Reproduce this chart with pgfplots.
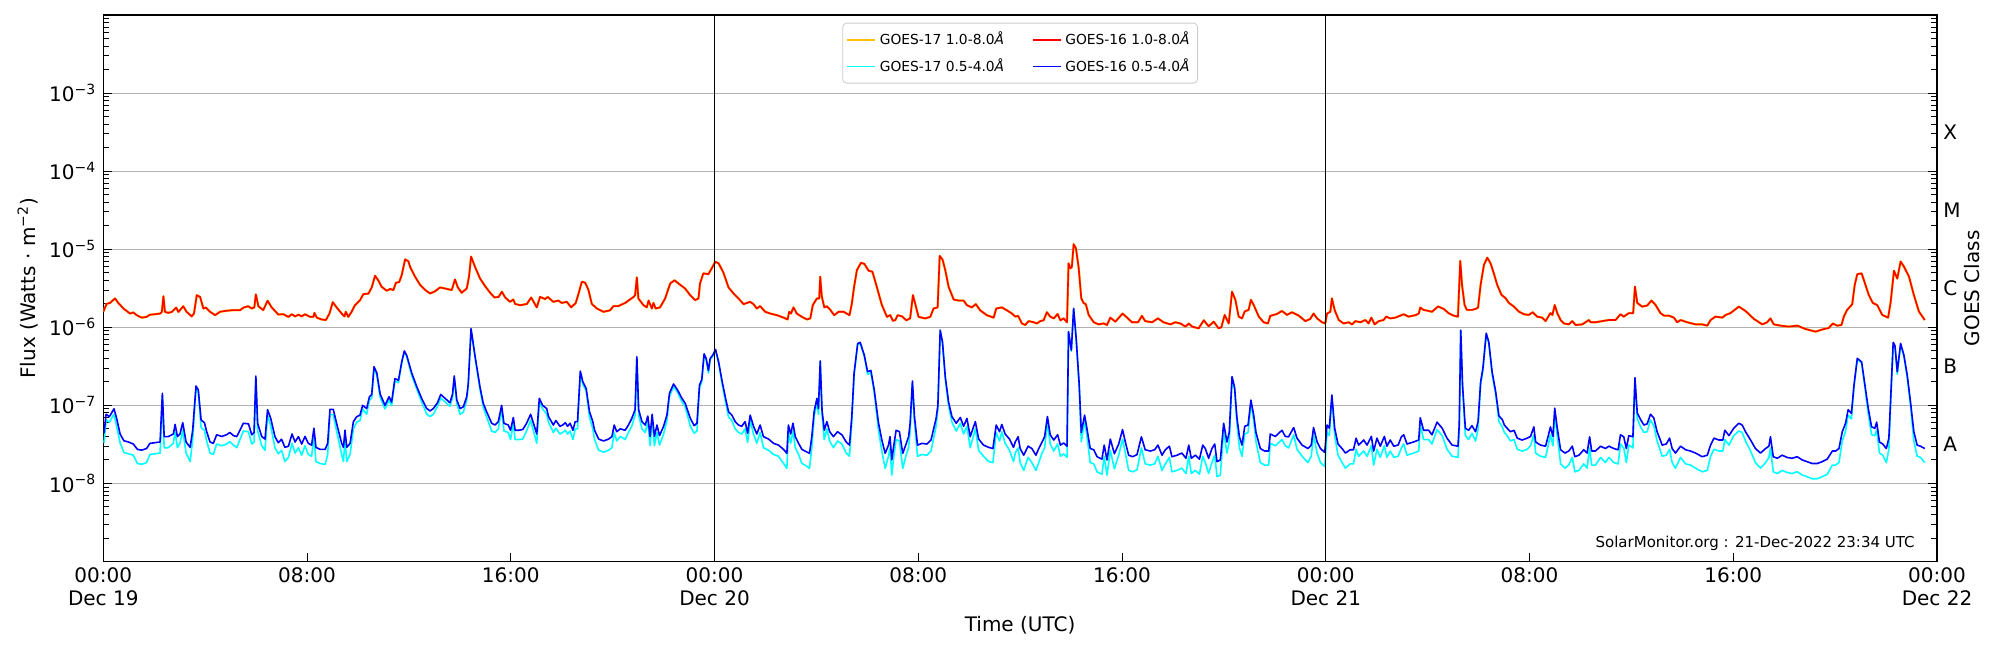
\documentclass[border=0pt]{standalone}
\usepackage{fontspec}
\setmainfont{DejaVu Sans}
\usepackage{pgfplots}
\pgfplotsset{compat=1.18}
\usepackage{pgfplotstable}
\definecolor{goesorange}{RGB}{255,193,7}
\definecolor{goescyan}{RGB}{0,255,255}
\definecolor{goesred}{RGB}{255,0,0}
\definecolor{goesblue}{RGB}{0,0,255}
\definecolor{gridgray}{RGB}{176,176,176}
\definecolor{legframe}{RGB}{204,204,204}

\pgfplotstableread{
h f
0 1.58e-6
0.13 2.0e-6
0.26 2.05e-6
0.46 2.34e-6
0.59 2.05e-6
0.79 1.74e-6
1.05 1.5e-6
1.18 1.55e-6
1.31 1.43e-6
1.51 1.33e-6
1.70 1.36e-6
1.83 1.45e-6
2.03 1.47e-6
2.23 1.5e-6
2.30 1.58e-6
2.36 2.5e-6
2.42 1.58e-6
2.55 1.53e-6
2.70 1.58e-6
2.86 1.79e-6
2.95 1.57e-6
3.14 1.86e-6
3.27 1.58e-6
3.47 1.38e-6
3.56 1.5e-6
3.67 2.58e-6
3.80 2.45e-6
3.93 1.74e-6
4.03 1.79e-6
4.19 1.58e-6
4.39 1.43e-6
4.58 1.58e-6
4.84 1.63e-6
5.11 1.66e-6
5.37 1.66e-6
5.52 1.8e-6
5.69 1.86e-6
5.83 1.74e-6
5.93 1.8e-6
5.99 2.64e-6
6.09 1.86e-6
6.28 1.66e-6
6.45 2.19e-6
6.61 1.8e-6
6.87 1.46e-6
7.07 1.47e-6
7.27 1.36e-6
7.40 1.47e-6
7.53 1.38e-6
7.66 1.45e-6
7.79 1.38e-6
7.92 1.47e-6
8.12 1.36e-6
8.25 1.36e-6
8.29 1.53e-6
8.38 1.33e-6
8.57 1.26e-6
8.74 1.24e-6
8.88 1.5e-6
9.01 2.1e-6
9.16 1.8e-6
9.36 1.5e-6
9.47 1.38e-6
9.52 1.58e-6
9.62 1.36e-6
9.75 1.58e-6
9.88 1.92e-6
10.08 2.22e-6
10.21 2.66e-6
10.41 2.7e-6
10.54 3.24e-6
10.67 4.57e-6
10.80 3.98e-6
10.93 3.3e-6
11.13 2.94e-6
11.26 3.1e-6
11.39 3.0e-6
11.49 3.72e-6
11.62 3.8e-6
11.72 4.7e-6
11.85 7.4e-6
11.98 7.0e-6
12.05 5.9e-6
12.24 4.45e-6
12.44 3.5e-6
12.64 3.0e-6
12.83 2.71e-6
13.03 2.9e-6
13.22 3.24e-6
13.42 3.14e-6
13.68 3.0e-6
13.81 4.1e-6
13.92 3.24e-6
14.07 2.77e-6
14.27 3.14e-6
14.36 4.45e-6
14.44 8.05e-6
14.60 5.9e-6
14.79 4.24e-6
14.99 3.37e-6
15.19 2.77e-6
15.36 2.41e-6
15.52 2.45e-6
15.65 2.85e-6
15.78 2.41e-6
15.97 2.12e-6
16.10 2.27e-6
16.17 1.99e-6
16.37 1.92e-6
16.63 1.99e-6
16.80 2.41e-6
17.02 1.8e-6
17.15 2.45e-6
17.35 2.3e-6
17.45 2.45e-6
17.67 2.12e-6
17.87 2.2e-6
18.00 2.05e-6
18.20 2.12e-6
18.37 1.8e-6
18.55 2.05e-6
18.66 2.7e-6
18.79 3.83e-6
18.92 3.73e-6
19.05 3.0e-6
19.18 2.0e-6
19.38 1.74e-6
19.64 1.58e-6
19.90 1.65e-6
20.03 1.87e-6
20.22 1.87e-6
20.49 2.05e-6
20.82 2.45e-6
20.88 2.58e-6
20.95 4.36e-6
21.01 2.34e-6
21.21 1.92e-6
21.34 1.8e-6
21.41 2.2e-6
21.54 1.74e-6
21.60 2.05e-6
21.69 1.74e-6
21.86 1.8e-6
22.06 2.34e-6
22.26 3.65e-6
22.43 4.0e-6
22.58 3.65e-6
22.84 3.15e-6
23.04 2.59e-6
23.24 2.23e-6
23.37 2.34e-6
23.43 3.65e-6
23.56 4.9e-6
23.76 4.8e-6
23.89 5.7e-6
24.03 6.9e-6
24.16 6.6e-6
24.35 5.0e-6
24.55 3.24e-6
24.75 2.7e-6
24.94 2.34e-6
25.14 1.98e-6
25.27 2.05e-6
25.40 2.12e-6
25.53 1.98e-6
25.66 1.74e-6
25.79 1.87e-6
25.99 1.58e-6
26.19 1.5e-6
26.45 1.43e-6
26.71 1.33e-6
26.87 1.26e-6
26.93 1.58e-6
27.00 1.5e-6
27.10 1.8e-6
27.23 1.5e-6
27.43 1.36e-6
27.63 1.26e-6
27.76 1.3e-6
27.86 1.93e-6
28.02 2.34e-6
28.11 2.34e-6
28.15 4.45e-6
28.21 2.5e-6
28.31 1.8e-6
28.41 1.86e-6
28.54 1.68e-6
28.70 1.43e-6
28.87 1.58e-6
29.07 1.58e-6
29.30 1.43e-6
29.39 2.0e-6
29.48 3.3e-6
29.59 5.4e-6
29.75 6.7e-6
29.88 6.5e-6
30.05 5.3e-6
30.20 5.15e-6
30.37 3.3e-6
30.57 1.93e-6
30.77 1.36e-6
30.90 1.43e-6
31.00 1.21e-6
31.10 1.24e-6
31.19 1.43e-6
31.36 1.38e-6
31.53 1.23e-6
31.68 1.3e-6
31.79 2.58e-6
31.88 2.0e-6
32.01 1.36e-6
32.27 1.3e-6
32.47 1.36e-6
32.60 1.74e-6
32.76 1.8e-6
32.84 8.2e-6
32.95 7.4e-6
33.06 5.4e-6
33.19 3.3e-6
33.39 2.27e-6
33.58 2.2e-6
33.78 2.2e-6
33.91 1.92e-6
34.10 1.8e-6
34.26 1.98e-6
34.43 1.65e-6
34.69 1.43e-6
34.96 1.33e-6
35.06 1.74e-6
35.28 1.8e-6
35.48 1.65e-6
35.68 1.5e-6
35.81 1.37e-6
35.92 1.40e-6
36.07 1.12e-6
36.20 1.07e-6
36.33 1.2e-6
36.53 1.16e-6
36.66 1.12e-6
36.79 1.2e-6
36.92 1.23e-6
37.05 1.56e-6
37.18 1.37e-6
37.32 1.3e-6
37.47 1.48e-6
37.58 1.23e-6
37.71 1.3e-6
37.84 1.16e-6
37.90 6.6e-6
37.97 5.7e-6
38.03 5.9e-6
38.10 1.16e-5
38.19 1.03e-5
38.30 5.7e-6
38.40 2.35e-6
38.49 2.05e-6
38.58 1.97e-6
38.69 1.44e-6
38.89 1.16e-6
39.08 1.09e-6
39.28 1.12e-6
39.41 1.07e-6
39.54 1.33e-6
39.74 1.18e-6
40.02 1.5e-6
40.20 1.33e-6
40.39 1.16e-6
40.63 1.16e-6
40.78 1.4e-6
40.91 1.2e-6
41.18 1.16e-6
41.41 1.3e-6
41.63 1.16e-6
41.90 1.09e-6
42.09 1.16e-6
42.29 1.12e-6
42.49 1.02e-6
42.62 1.12e-6
42.75 1.02e-6
43.01 9.7e-7
43.21 1.23e-6
43.40 1.03e-6
43.60 1.18e-6
43.79 9.7e-7
43.90 1.0e-6
44.03 1.44e-6
44.19 1.12e-6
44.32 2.86e-6
44.45 2.25e-6
44.58 1.37e-6
44.71 1.3e-6
44.82 1.6e-6
44.97 1.67e-6
45.06 2.25e-6
45.17 1.93e-6
45.37 1.37e-6
45.56 1.16e-6
45.73 1.12e-6
45.82 1.4e-6
46.08 1.48e-6
46.28 1.62e-6
46.48 1.44e-6
46.67 1.56e-6
46.94 1.41e-6
47.20 1.2e-6
47.39 1.28e-6
47.52 1.5e-6
47.66 1.3e-6
47.85 1.16e-6
47.98 1.12e-6
48.05 1.5e-6
48.18 1.58e-6
48.24 2.35e-6
48.35 1.66e-6
48.51 1.24e-6
48.70 1.12e-6
48.90 1.16e-6
49.03 1.09e-6
49.16 1.2e-6
49.36 1.16e-6
49.55 1.24e-6
49.68 1.12e-6
49.79 1.33e-6
49.92 1.09e-6
50.08 1.2e-6
50.27 1.24e-6
50.37 1.37e-6
50.53 1.3e-6
50.73 1.33e-6
51.06 1.47e-6
51.25 1.37e-6
51.52 1.43e-6
51.65 1.5e-6
51.71 1.79e-6
51.84 1.67e-6
52.04 1.62e-6
52.17 1.58e-6
52.41 1.85e-6
52.63 1.72e-6
52.83 1.51e-6
53.02 1.41e-6
53.19 1.37e-6
53.28 7.1e-6
53.35 3.5e-6
53.45 1.93e-6
53.54 1.67e-6
53.74 1.67e-6
53.88 1.72e-6
53.98 1.79e-6
54.08 3.5e-6
54.21 6.3e-6
54.34 7.8e-6
54.47 6.6e-6
54.60 4.9e-6
54.73 3.5e-6
54.90 2.6e-6
55.06 2.36e-6
55.19 2.05e-6
55.39 1.84e-6
55.58 1.59e-6
55.78 1.47e-6
55.97 1.44e-6
56.13 1.56e-6
56.30 1.37e-6
56.50 1.33e-6
56.63 1.2e-6
56.82 1.52e-6
56.90 1.44e-6
56.99 1.93e-6
57.09 1.52e-6
57.22 1.24e-6
57.35 1.12e-6
57.54 1.09e-6
57.68 1.2e-6
57.81 1.07e-6
58.07 1.09e-6
58.33 1.24e-6
58.40 1.16e-6
58.59 1.16e-6
58.85 1.2e-6
59.12 1.24e-6
59.38 1.24e-6
59.57 1.47e-6
59.70 1.37e-6
59.90 1.52e-6
60.07 1.52e-6
60.14 3.32e-6
60.23 2.05e-6
60.42 1.84e-6
60.62 1.9e-6
60.79 2.2e-6
60.95 1.93e-6
61.14 1.52e-6
61.28 1.41e-6
61.47 1.41e-6
61.67 1.33e-6
61.80 1.16e-6
61.93 1.24e-6
62.19 1.16e-6
62.52 1.09e-6
62.78 1.09e-6
62.98 1.05e-6
63.11 1.24e-6
63.30 1.37e-6
63.57 1.33e-6
63.70 1.44e-6
63.89 1.52e-6
64.22 1.84e-6
64.48 1.62e-6
64.81 1.28e-6
65.14 1.09e-6
65.33 1.16e-6
65.46 1.3e-6
65.59 1.09e-6
65.86 1.05e-6
66.18 1.02e-6
66.51 1.05e-6
66.84 9.5e-7
67.23 8.8e-7
67.56 9.5e-7
67.75 9.8e-7
67.91 1.12e-6
68.08 1.05e-6
68.25 1.07e-6
68.34 1.37e-6
68.47 1.67e-6
68.67 1.97e-6
68.77 3.5e-6
68.87 4.8e-6
69.04 4.9e-6
69.19 3.5e-6
69.32 2.6e-6
69.48 2.05e-6
69.65 1.93e-6
69.85 1.44e-6
70.08 1.33e-6
70.18 2.1e-6
70.31 5.3e-6
70.44 4.2e-6
70.57 6.95e-6
70.70 6.0e-6
70.90 4.45e-6
71.09 2.6e-6
71.29 1.59e-6
71.52 1.24e-6
}\tabhard

\pgfplotstableread{
h g16 g17
0.03 4.4e-8 3.3e-8
0.11 7.7e-8 6.5e-8
0.24 7.16e-8 6.1e-8
0.42 9.05e-8 7.7e-8
0.52 6.9e-8 5.5e-8
0.66 4.3e-8 3.3e-8
0.81 3.52e-8 2.5e-8
0.98 3.4e-8 2.4e-8
1.18 3.2e-8 2.3e-8
1.34 2.73e-8 1.8e-8
1.51 2.67e-8 1.76e-8
1.70 2.8e-8 1.85e-8
1.83 3.26e-8 2.35e-8
2.03 3.33e-8 2.4e-8
2.23 3.4e-8 2.45e-8
2.32 1.43e-7 1.29e-7
2.39 3.98e-8 2.87e-8
2.55 3.98e-8 2.87e-8
2.75 4.3e-8 3.27e-8
2.82 5.7e-8 4.56e-8
2.91 3.98e-8 2.87e-8
3.01 4.3e-8 3.27e-8
3.12 6.0e-8 4.8e-8
3.25 3.4e-8 2.45e-8
3.41 2.9e-8 1.91e-8
3.51 4.8e-8 3.65e-8
3.64 1.77e-7 1.65e-7
3.73 1.58e-7 1.47e-7
3.84 6.5e-8 5.2e-8
3.97 6.0e-8 4.8e-8
4.06 4.6e-8 3.5e-8
4.19 3.4e-8 2.45e-8
4.32 3.26e-8 2.35e-8
4.45 4.2e-8 3.2e-8
4.65 4.0e-8 3.04e-8
4.84 4.2e-8 3.2e-8
4.97 4.5e-8 3.42e-8
5.11 4.1e-8 3.1e-8
5.24 3.98e-8 2.87e-8
5.50 5.9e-8 4.7e-8
5.70 5.8e-8 4.6e-8
5.83 4.2e-8 3.2e-8
5.92 4.5e-8 3.4e-8
5.99 2.38e-7 2.2e-7
6.06 5.9e-8 4.7e-8
6.22 4.0e-8 3.04e-8
6.35 3.7e-8 2.66e-8
6.45 8.8e-8 7.5e-8
6.57 6.9e-8 5.5e-8
6.74 3.98e-8 2.87e-8
6.87 3.33e-8 2.4e-8
7.00 3.68e-8 2.65e-8
7.13 2.9e-8 1.91e-8
7.27 3.0e-8 2.16e-8
7.41 4.3e-8 3.27e-8
7.53 3.4e-8 2.45e-8
7.66 3.98e-8 2.87e-8
7.79 3.2e-8 2.3e-8
7.92 4.0e-8 3.04e-8
8.05 3.26e-8 2.35e-8
8.18 3.1e-8 2.23e-8
8.27 5.1e-8 4.1e-8
8.35 2.9e-8 1.91e-8
8.51 2.73e-8 1.8e-8
8.71 2.73e-8 1.75e-8
8.81 3.26e-8 2.35e-8
8.90 8.9e-8 7.6e-8
9.03 8.9e-8 7.6e-8
9.16 5.9e-8 4.7e-8
9.36 3.26e-8 2.35e-8
9.43 2.9e-8 1.91e-8
9.49 4.8e-8 3.65e-8
9.56 2.9e-8 1.91e-8
9.69 3.26e-8 2.35e-8
9.82 6.2e-8 5.0e-8
9.95 7.16e-8 6.1e-8
10.08 7.5e-8 6.4e-8
10.18 1.0e-7 9.0e-8
10.34 9.1e-8 7.7e-8
10.45 1.29e-7 1.16e-7
10.54 1.38e-7 1.24e-7
10.63 3.13e-7 3.04e-7
10.74 2.6e-7 2.42e-7
10.87 1.4e-7 1.26e-7
11.06 1.0e-7 9.0e-8
11.22 1.29e-7 1.16e-7
11.32 1.1e-7 9.9e-8
11.45 2.2e-7 2.05e-7
11.59 2.1e-7 1.95e-7
11.72 3.63e-7 3.52e-7
11.82 4.98e-7 4.83e-7
11.91 4.4e-7 4.27e-7
12.11 2.6e-7 2.42e-7
12.31 1.73e-7 1.61e-7
12.50 1.23e-7 1.11e-7
12.70 9.1e-8 7.7e-8
12.83 8.5e-8 7.2e-8
12.96 9.1e-8 7.7e-8
13.12 1.08e-7 9.7e-8
13.25 1.38e-7 1.24e-7
13.42 1.23e-7 1.11e-7
13.61 1.08e-7 9.7e-8
13.71 1.38e-7 1.24e-7
13.78 2.38e-7 2.21e-7
13.88 1.17e-7 1.05e-7
14.01 9.1e-8 7.7e-8
14.14 9.6e-8 8.2e-8
14.27 1.29e-7 1.16e-7
14.33 1.9e-7 1.77e-7
14.44 9.6e-7 9.3e-7
14.60 4.2e-7 4.07e-7
14.79 1.73e-7 1.61e-7
14.92 1.06e-7 9.5e-8
15.05 8.3e-8 7.1e-8
15.25 5.9e-8 4.7e-8
15.38 5.6e-8 4.5e-8
15.51 6.2e-8 5.0e-8
15.64 1.0e-7 9.0e-8
15.73 5.9e-8 4.7e-8
15.90 5.6e-8 4.5e-8
15.99 4.8e-8 3.65e-8
16.10 7.0e-8 5.9e-8
16.17 4.8e-8 3.65e-8
16.30 4.8e-8 3.65e-8
16.47 4.9e-8 3.7e-8
16.62 5.9e-8 4.7e-8
16.78 7.7e-8 6.5e-8
16.89 5.9e-8 4.7e-8
17.02 4.3e-8 3.27e-8
17.12 1.23e-7 1.11e-7
17.25 1.0e-7 9.0e-8
17.41 9.1e-8 7.7e-8
17.48 7.2e-8 6.1e-8
17.67 5.6e-8 4.5e-8
17.77 6.4e-8 5.1e-8
17.93 5.4e-8 4.3e-8
18.04 5.6e-8 4.5e-8
18.14 6.0e-8 4.8e-8
18.23 5.4e-8 4.3e-8
18.33 5.9e-8 4.7e-8
18.44 4.8e-8 3.65e-8
18.53 6.2e-8 5.0e-8
18.62 6.2e-8 5.0e-8
18.73 2.75e-7 2.56e-7
18.83 2.0e-7 1.86e-7
18.96 1.65e-7 1.53e-7
19.09 8.3e-8 7.1e-8
19.22 6.2e-8 5.0e-8
19.29 4.8e-8 3.65e-8
19.45 3.7e-8 2.66e-8
19.64 3.5e-8 2.52e-8
19.84 3.7e-8 2.66e-8
19.97 3.98e-8 2.87e-8
20.06 5.6e-8 4.5e-8
20.16 4.6e-8 3.5e-8
20.30 5.0e-8 4.0e-8
20.49 4.8e-8 3.65e-8
20.62 5.6e-8 4.5e-8
20.75 6.8e-8 5.4e-8
20.88 8.8e-8 7.5e-8
20.95 4.2e-7 4.07e-7
21.02 8.8e-8 7.5e-8
21.15 6.2e-8 5.0e-8
21.28 5.6e-8 4.5e-8
21.38 7.3e-8 6.2e-8
21.47 4.0e-8 3.04e-8
21.55 7.7e-8 6.5e-8
21.64 4.0e-8 3.04e-8
21.74 5.6e-8 4.5e-8
21.84 4.1e-8 3.1e-8
22.00 5.4e-8 4.3e-8
22.13 7.5e-8 6.4e-8
22.23 1.43e-7 1.29e-7
22.39 1.88e-7 1.75e-7
22.55 1.57e-7 1.46e-7
22.72 1.23e-7 1.11e-7
22.85 1.06e-7 9.5e-8
23.05 6.8e-8 5.4e-8
23.20 5.5e-8 4.4e-8
23.31 5.9e-8 4.7e-8
23.41 1.82e-7 1.69e-7
23.50 2.15e-7 2.0e-7
23.59 4.57e-7 4.43e-7
23.67 4.0e-7 3.88e-7
23.76 2.8e-7 2.6e-7
23.83 4.0e-7 3.88e-7
23.93 4.4e-7 4.27e-7
24.04 5.2e-7 5.04e-7
24.16 3.6e-7 3.49e-7
24.29 2.1e-7 1.95e-7
24.42 1.29e-7 1.16e-7
24.55 8.3e-8 7.1e-8
24.68 7.5e-8 6.4e-8
24.81 6.2e-8 5.0e-8
24.94 5.6e-8 4.5e-8
25.07 5.4e-8 4.3e-8
25.20 6.2e-8 5.0e-8
25.30 4.4e-8 3.35e-8
25.40 7.5e-8 6.4e-8
25.53 5.4e-8 4.3e-8
25.66 4.3e-8 3.27e-8
25.79 5.6e-8 4.5e-8
25.92 3.98e-8 2.87e-8
26.12 3.7e-8 2.66e-8
26.32 3.26e-8 2.35e-8
26.51 3.1e-8 2.23e-8
26.71 2.73e-8 1.8e-8
26.84 2.43e-8 1.56e-8
26.90 5.6e-8 4.5e-8
26.99 4.3e-8 3.27e-8
27.08 5.9e-8 4.7e-8
27.17 3.98e-8 2.87e-8
27.30 3.26e-8 2.35e-8
27.43 2.73e-8 1.8e-8
27.60 2.55e-8 1.68e-8
27.73 2.43e-8 1.56e-8
27.82 3.98e-8 2.87e-8
27.91 8.3e-8 7.1e-8
28.02 1.23e-7 1.11e-7
28.08 9.1e-8 7.7e-8
28.15 3.7e-7 3.59e-7
28.22 8.8e-8 7.5e-8
28.31 4.8e-8 3.65e-8
28.41 6.2e-8 5.0e-8
28.52 4.6e-8 3.5e-8
28.67 3.98e-8 2.87e-8
28.83 4.6e-8 3.5e-8
29.00 4.2e-8 3.2e-8
29.17 3.4e-8 2.45e-8
29.30 3.1e-8 2.23e-8
29.39 7.2e-8 6.1e-8
29.48 2.6e-7 2.42e-7
29.62 6.2e-7 6.0e-7
29.72 6.4e-7 6.2e-7
29.88 4.4e-7 4.27e-7
30.01 2.7e-7 2.51e-7
30.14 2.8e-7 2.6e-7
30.27 1.58e-7 1.47e-7
30.44 5.9e-8 4.7e-8
30.57 3.6e-8 2.6e-8
30.70 2.43e-8 1.56e-8
30.83 3.1e-8 2.23e-8
30.89 3.98e-8 2.87e-8
30.96 2.0e-8 1.28e-8
31.04 3.1e-8 2.23e-8
31.13 4.8e-8 3.65e-8
31.26 4.6e-8 3.5e-8
31.39 2.43e-8 1.56e-8
31.53 3.26e-8 2.35e-8
31.62 3.98e-8 2.87e-8
31.68 5.9e-8 4.7e-8
31.77 2.05e-7 1.91e-7
31.85 7.2e-8 6.1e-8
31.97 3.1e-8 2.23e-8
32.14 3.26e-8 2.35e-8
32.34 3.2e-8 2.3e-8
32.50 3.6e-8 2.6e-8
32.70 6.8e-8 5.4e-8
32.77 1.0e-7 9.0e-8
32.86 9.2e-7 8.9e-7
32.95 6.5e-7 6.3e-7
33.06 2.33e-7 2.17e-7
33.19 1.1e-7 9.9e-8
33.32 7.2e-8 6.1e-8
33.49 5.9e-8 4.7e-8
33.65 7.0e-8 5.9e-8
33.78 5.4e-8 4.3e-8
33.91 6.8e-8 5.4e-8
34.04 3.98e-8 2.87e-8
34.24 6.2e-8 5.0e-8
34.37 3.7e-8 2.66e-8
34.56 3.1e-8 2.23e-8
34.76 2.9e-8 1.91e-8
34.93 2.8e-8 1.85e-8
35.06 5.6e-8 4.5e-8
35.19 4.6e-8 3.5e-8
35.28 5.7e-8 4.6e-8
35.41 4.3e-8 3.27e-8
35.58 3.7e-8 2.66e-8
35.74 2.9e-8 1.91e-8
35.81 3.42e-8 2.46e-8
35.92 3.96e-8 2.85e-8
36.00 2.8e-8 1.85e-8
36.14 2.3e-8 1.47e-8
36.31 3.0e-8 2.16e-8
36.46 2.8e-8 1.85e-8
36.62 2.3e-8 1.47e-8
36.73 2.8e-8 1.85e-8
36.86 3.4e-8 2.45e-8
36.96 3.96e-8 2.85e-8
37.07 7.2e-8 6.1e-8
37.18 4.2e-8 3.2e-8
37.32 3.6e-8 2.6e-8
37.47 4.2e-8 3.2e-8
37.58 3.1e-8 2.23e-8
37.71 3.3e-8 2.38e-8
37.84 3.0e-8 2.16e-8
37.90 8.8e-7 8.5e-7
38.01 5.1e-7 4.95e-7
38.10 1.75e-6 1.70e-6
38.20 7.2e-7 7.0e-7
38.32 1.82e-7 1.69e-7
38.40 4.5e-8 3.42e-8
38.53 7.5e-8 6.4e-8
38.62 5.1e-8 4.1e-8
38.75 2.8e-8 1.85e-8
38.89 2.7e-8 1.78e-8
39.02 2.2e-8 1.41e-8
39.21 2.05e-8 1.31e-8
39.30 3.1e-8 2.23e-8
39.41 2.0e-8 1.28e-8
39.54 3.7e-8 2.66e-8
39.70 2.4e-8 1.54e-8
39.87 3.2e-8 2.3e-8
40.02 4.9e-8 3.7e-8
40.13 3.4e-8 2.45e-8
40.26 2.3e-8 1.47e-8
40.42 2.2e-8 1.41e-8
40.59 2.35e-8 1.5e-8
40.76 3.96e-8 2.85e-8
40.91 2.7e-8 1.78e-8
41.11 2.6e-8 1.72e-8
41.28 2.7e-8 1.78e-8
41.41 3.1e-8 2.23e-8
41.57 2.3e-8 1.47e-8
41.70 2.7e-8 1.78e-8
41.86 3.0e-8 2.16e-8
41.96 2.2e-8 1.41e-8
42.16 2.3e-8 1.47e-8
42.35 2.45e-8 1.57e-8
42.51 2.1e-8 1.34e-8
42.62 3.1e-8 2.23e-8
42.72 2.1e-8 1.34e-8
42.88 2.3e-8 1.47e-8
43.04 2.05e-8 1.31e-8
43.17 3.1e-8 2.23e-8
43.27 2.8e-8 1.85e-8
43.40 2.1e-8 1.34e-8
43.53 2.8e-8 1.85e-8
43.64 3.2e-8 2.3e-8
43.73 1.9e-8 1.22e-8
43.86 2.0e-8 1.28e-8
43.99 5.9e-8 4.7e-8
44.12 3.4e-8 2.45e-8
44.21 4.5e-8 3.42e-8
44.32 2.33e-7 2.17e-7
44.42 1.7e-7 1.58e-7
44.51 7.0e-8 5.9e-8
44.61 3.96e-8 2.85e-8
44.71 3.1e-8 2.23e-8
44.82 5.4e-8 4.3e-8
44.95 5.6e-8 4.5e-8
45.06 1.17e-7 1.05e-7
45.17 7.5e-8 6.4e-8
45.26 4.5e-8 3.42e-8
45.43 2.8e-8 1.85e-8
45.60 2.6e-8 1.72e-8
45.76 2.6e-8 1.72e-8
45.82 4.3e-8 3.27e-8
46.02 4.0e-8 3.04e-8
46.28 4.8e-8 3.65e-8
46.41 4.0e-8 3.04e-8
46.54 3.96e-8 2.85e-8
46.74 5.2e-8 4.2e-8
46.87 3.8e-8 2.74e-8
47.07 3.1e-8 2.23e-8
47.30 2.8e-8 1.85e-8
47.43 3.1e-8 2.23e-8
47.52 5.2e-8 4.2e-8
47.66 3.4e-8 2.45e-8
47.79 2.8e-8 1.85e-8
47.96 2.5e-8 1.65e-8
48.05 5.6e-8 4.5e-8
48.14 5.1e-8 4.1e-8
48.24 1.36e-7 1.22e-7
48.35 5.1e-8 4.1e-8
48.48 3.2e-8 2.3e-8
48.64 2.8e-8 1.85e-8
48.77 2.45e-8 1.57e-8
48.96 2.7e-8 1.78e-8
49.09 2.7e-8 1.78e-8
49.19 3.8e-8 2.74e-8
49.29 3.1e-8 2.23e-8
49.49 3.6e-8 2.6e-8
49.62 3.1e-8 2.23e-8
49.79 4.0e-8 3.04e-8
49.88 2.6e-8 1.72e-8
50.01 3.8e-8 2.74e-8
50.14 3.0e-8 2.16e-8
50.30 4.0e-8 3.04e-8
50.40 3.0e-8 2.16e-8
50.53 3.6e-8 2.6e-8
50.67 3.0e-8 2.16e-8
50.84 3.1e-8 2.23e-8
50.97 3.96e-8 2.85e-8
51.06 4.2e-8 3.2e-8
51.19 3.2e-8 2.3e-8
51.45 3.4e-8 2.45e-8
51.65 3.6e-8 2.6e-8
51.71 6.95e-8 5.6e-8
51.84 4.8e-8 3.65e-8
52.04 4.8e-8 3.65e-8
52.17 4.2e-8 3.2e-8
52.37 6.1e-8 4.9e-8
52.57 5.1e-8 4.1e-8
52.76 3.8e-8 2.74e-8
52.96 3.1e-8 2.23e-8
53.19 3.0e-8 2.16e-8
53.24 5.6e-8 4.5e-8
53.30 9.2e-7 8.9e-7
53.37 1.82e-7 1.69e-7
53.48 5.1e-8 4.1e-8
53.61 4.8e-8 3.65e-8
53.74 5.5e-8 4.4e-8
53.88 4.6e-8 3.5e-8
53.98 6.2e-8 5.0e-8
54.08 2.0e-7 1.86e-7
54.17 2.98e-7 2.77e-7
54.30 8.4e-7 8.1e-7
54.40 6.5e-7 6.3e-7
54.53 2.7e-7 2.51e-7
54.67 1.5e-7 1.4e-7
54.80 7.3e-8 6.2e-8
54.93 6.6e-8 5.3e-8
55.01 5.6e-8 4.5e-8
55.12 5.1e-8 4.1e-8
55.25 4.6e-8 3.5e-8
55.39 4.8e-8 3.65e-8
55.52 3.8e-8 2.74e-8
55.71 3.6e-8 2.6e-8
55.91 3.8e-8 2.74e-8
56.04 4.0e-8 3.04e-8
56.17 5.3e-8 4.2e-8
56.24 3.4e-8 2.45e-8
56.43 3.1e-8 2.23e-8
56.63 3.0e-8 2.16e-8
56.73 4.0e-8 3.04e-8
56.82 5.3e-8 4.2e-8
56.92 4.0e-8 3.04e-8
56.99 9.2e-8 7.8e-8
57.09 5.1e-8 4.1e-8
57.22 2.7e-8 1.78e-8
57.39 2.45e-8 1.57e-8
57.54 2.6e-8 1.72e-8
57.68 3.0e-8 2.16e-8
57.78 2.2e-8 1.41e-8
57.94 2.3e-8 1.47e-8
58.13 2.7e-8 1.78e-8
58.26 2.45e-8 1.57e-8
58.36 3.96e-8 2.85e-8
58.44 2.6e-8 1.72e-8
58.59 2.6e-8 1.72e-8
58.79 3.0e-8 2.16e-8
58.98 2.8e-8 1.85e-8
59.12 3.0e-8 2.16e-8
59.31 2.8e-8 1.85e-8
59.48 2.7e-8 1.78e-8
59.57 4.2e-8 3.2e-8
59.70 3.96e-8 2.85e-8
59.80 2.8e-8 1.85e-8
59.90 4.1e-8 3.1e-8
60.06 3.96e-8 2.85e-8
60.14 2.26e-7 2.1e-7
60.23 8.0e-8 6.8e-8
60.36 6.6e-8 5.3e-8
60.49 5.6e-8 4.5e-8
60.62 5.8e-8 4.6e-8
60.75 7.7e-8 6.5e-8
60.88 6.9e-8 5.5e-8
61.01 4.6e-8 3.5e-8
61.21 3.1e-8 2.23e-8
61.37 3.2e-8 2.3e-8
61.50 3.8e-8 2.74e-8
61.60 2.8e-8 1.85e-8
61.73 2.45e-8 1.57e-8
61.93 3.0e-8 2.16e-8
62.13 2.7e-8 1.78e-8
62.32 2.6e-8 1.72e-8
62.52 2.45e-8 1.57e-8
62.78 2.2e-8 1.41e-8
62.98 2.3e-8 1.47e-8
63.11 3.1e-8 2.23e-8
63.24 3.8e-8 2.74e-8
63.44 3.6e-8 2.6e-8
63.59 3.6e-8 2.6e-8
63.67 4.8e-8 3.65e-8
63.83 4.1e-8 3.1e-8
64.02 5.1e-8 4.1e-8
64.22 5.9e-8 4.7e-8
64.35 5.6e-8 4.5e-8
64.48 4.6e-8 3.5e-8
64.68 3.6e-8 2.6e-8
64.87 2.8e-8 1.85e-8
65.07 2.45e-8 1.57e-8
65.27 2.8e-8 1.85e-8
65.40 3.0e-8 2.16e-8
65.46 3.96e-8 2.85e-8
65.57 2.2e-8 1.41e-8
65.73 2.1e-8 1.34e-8
65.92 2.3e-8 1.47e-8
66.12 2.15e-8 1.38e-8
66.31 2.1e-8 1.34e-8
66.51 2.2e-8 1.41e-8
66.71 2.0e-8 1.28e-8
66.90 1.9e-8 1.22e-8
67.10 1.8e-8 1.15e-8
67.30 1.8e-8 1.15e-8
67.49 1.9e-8 1.22e-8
67.69 2.05e-8 1.31e-8
67.89 2.6e-8 1.72e-8
68.02 2.6e-8 1.72e-8
68.15 2.8e-8 1.85e-8
68.28 4.6e-8 3.5e-8
68.41 5.9e-8 4.7e-8
68.51 8.8e-8 7.5e-8
68.64 7.9e-8 6.7e-8
68.74 1.82e-7 1.69e-7
68.87 4.0e-7 3.88e-7
69.04 3.6e-7 3.49e-7
69.17 1.82e-7 1.69e-7
69.30 9.2e-8 7.8e-8
69.43 5.3e-8 4.2e-8
69.56 5.1e-8 4.1e-8
69.63 6.1e-8 4.9e-8
69.74 3.4e-8 2.45e-8
69.87 3.2e-8 2.3e-8
70.01 2.8e-8 1.85e-8
70.11 3.8e-8 2.74e-8
70.21 2.0e-7 1.86e-7
70.28 6.4e-7 6.2e-7
70.35 5.8e-7 5.6e-7
70.44 2.7e-7 2.51e-7
70.57 6.2e-7 6.0e-7
70.70 4.4e-7 4.27e-7
70.83 2.45e-7 2.28e-7
70.96 1.1e-7 9.9e-8
71.09 4.6e-8 3.5e-8
71.22 3.1e-8 2.23e-8
71.35 3.0e-8 2.16e-8
71.52 2.8e-8 1.85e-8
}\tabsoft

\begin{document}
\begin{tikzpicture}
\useasboundingbox (-51.65pt,-44.25pt) rectangle (948.35pt,280.75pt);
\begin{axis}[
  at={(0,0)}, anchor=south west,
  scale only axis, width=916.85pt, height=273.25pt,
  xmin=0, xmax=72,
  ymode=log, ymin=1e-9, ymax=1e-2,
  axis line style={line width=0.6pt},
  xtick={0,8,16,24,32,40,48,56,64,72},
  xticklabels={{00:00\\Dec 19},08:00,16:00,{00:00\\Dec 20},08:00,16:00,{00:00\\Dec 21},08:00,16:00,{00:00\\Dec 22}},
  xticklabel style={align=center, inner sep=2.8pt},
  xtick pos=left,
  ytick={1e-8,1e-7,1e-6,1e-5,1e-4,1e-3},
  yticklabels={10\textsuperscript{−8},10\textsuperscript{−7},10\textsuperscript{−6},10\textsuperscript{−5},10\textsuperscript{−4},10\textsuperscript{−3}},
  minor ytick={2e-9,3e-9,4e-9,5e-9,6e-9,7e-9,8e-9,9e-9,
    2e-8,3e-8,4e-8,5e-8,6e-8,7e-8,8e-8,9e-8,
    2e-7,3e-7,4e-7,5e-7,6e-7,7e-7,8e-7,9e-7,
    2e-6,3e-6,4e-6,5e-6,6e-6,7e-6,8e-6,9e-6,
    2e-5,3e-5,4e-5,5e-5,6e-5,7e-5,8e-5,9e-5,
    2e-4,3e-4,4e-4,5e-4,6e-4,7e-4,8e-4,9e-4,
    2e-3,3e-3,4e-3,5e-3,6e-3,7e-3,8e-3,9e-3},
  ytick pos=both,
  tick align=inside,
  major tick length=4.5pt, minor tick length=3pt,
  tick style={black, line width=0.5pt},
  every tick label/.append style={font=\fontsize{10}{11.65}\selectfont},
  ymajorgrids, major grid style={gridgray, line width=0.45pt},
  legend columns=2,
  legend cell align=left,
  legend image code/.code={\draw[#1, line width=0.6pt] (0pt,0pt) -- (14pt,0pt);},
  legend style={at={(0.5,1)}, anchor=north, yshift=-3.85pt,
    font=\fontsize{6.9}{8}\selectfont,
    draw=legframe, line width=0.4pt, rounded corners=2pt,
    fill=white, fill opacity=0.8, text opacity=1,
    inner xsep=2pt, inner ysep=2.5pt, row sep=1.2pt,
    /tikz/every even column/.append style={column sep=12pt}},
]
\addplot[goesorange, line width=1.15pt, line join=round] table[x=h,y=f]{\tabhard};
\addlegendentry{GOES-17 1.0-8.0\textit{Å}}
\addplot[goesred, line width=0.8pt, line join=round] table[x=h,y=f]{\tabhard};
\addlegendentry{GOES-16 1.0-8.0\textit{Å}}
\addplot[goescyan, line width=0.8pt, line join=round] table[x=h,y=g17]{\tabsoft};
\addlegendentry{GOES-17 0.5-4.0\textit{Å}}
\addplot[goesblue, line width=0.8pt, line join=round] table[x=h,y=g16]{\tabsoft};
\addlegendentry{GOES-16 0.5-4.0\textit{Å}}
\draw[black, line width=0.6pt] (axis cs:24,1e-9) -- (axis cs:24,1e-2);
\draw[black, line width=0.6pt] (axis cs:48,1e-9) -- (axis cs:48,1e-2);
\end{axis}
\node[rotate=90, font=\fontsize{10}{12}\selectfont] at (-37.8pt,136.6pt) {Flux (Watts · m\textsuperscript{−2})};
\node[anchor=base, font=\fontsize{10}{12}\selectfont] at (458.4pt,-34.75pt) {Time (UTC)};
\node[rotate=90, font=\fontsize{10}{12}\selectfont] at (934.35pt,136.6pt) {GOES Class};
\begin{scope}[every node/.style={anchor=west, inner sep=0pt, font=\fontsize{10}{12}\selectfont}]
\node at (919.85pt,214.7pt) {X};
\node at (919.85pt,175.7pt) {M};
\node at (919.85pt,136.6pt) {C};
\node at (919.85pt,97.6pt) {B};
\node at (919.85pt,58.55pt) {A};
\end{scope}
\node[anchor=east, inner sep=0pt, font=\fontsize{7.5}{9}\selectfont] at (905.85pt,9.25pt) {SolarMonitor.org : 21-Dec-2022 23:34 UTC};
\end{tikzpicture}
\end{document}
